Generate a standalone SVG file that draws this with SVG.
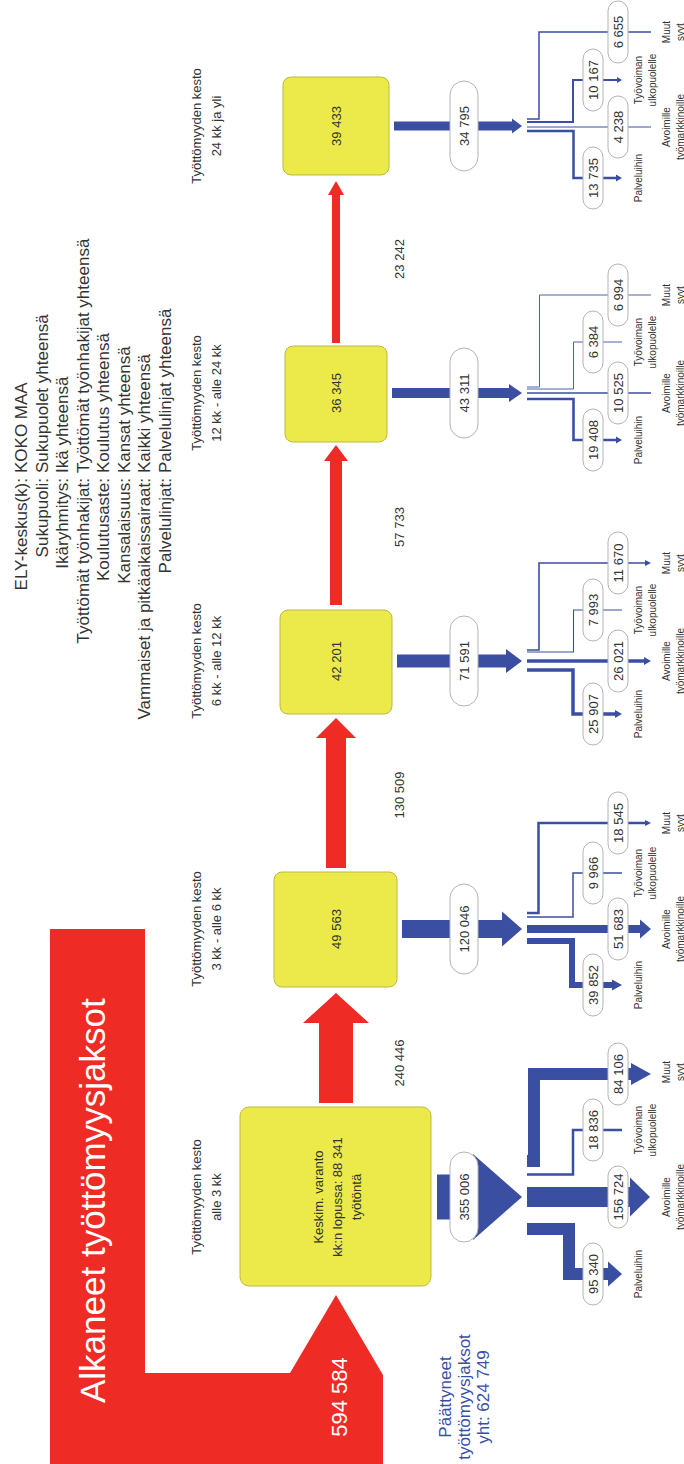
<svg xmlns="http://www.w3.org/2000/svg" width="684" height="1464" viewBox="0 0 684 1464">
<style>
text{font-family:"Liberation Sans",Arial,Helvetica,sans-serif;fill:#333}
.mid{text-anchor:middle}
.end{text-anchor:end}
.f10{font-size:10px}
.f13{font-size:13px}
.f17{font-size:17px}
.box{fill:#ece94a;stroke:#bdb93e;stroke-width:1}
.red{fill:#ee2b24}
.blue{fill:#3a4fa2}
.band{fill:none;stroke:#3a4fa2;stroke-linejoin:miter;stroke-linecap:butt}
.pill{fill:#fff;stroke:#b4b4b4;stroke-width:1}
.white{fill:#fff}
.bt{fill:#3a4fa2}
</style>
<rect width="684" height="1464" fill="#fff"/>
<g id="diagram" transform="matrix(0,-1,1,0,0,1464)">

<g id="header">
<text class="f17 end" x="986" y="27">ELY-keskus(k):</text><text class="f17" x="991" y="27">KOKO MAA</text>
<text class="f17 end" x="986" y="47.5">Sukupuoli:</text><text class="f17" x="991" y="47.5">Sukupuolet yhteensä</text>
<text class="f17 end" x="986" y="68">Ikäryhmitys:</text><text class="f17" x="991" y="68">Ikä yhteensä</text>
<text class="f17 end" x="986" y="88.5">Työttömät työnhakijat:</text><text class="f17" x="991" y="88.5">Työttömät työnhakijat yhteensä</text>
<text class="f17 end" x="986" y="109">Koulutusaste:</text><text class="f17" x="991" y="109">Koulutus yhteensä</text>
<text class="f17 end" x="986" y="129.5">Kansalaisuus:</text><text class="f17" x="991" y="129.5">Kansat yhteensä</text>
<text class="f17 end" x="986" y="150">Vammaiset ja pitkäaikaissairaat:</text><text class="f17" x="991" y="150">Kaikki yhteensä</text>
<text class="f17 end" x="986" y="170.5">Palvelulinjat:</text><text class="f17" x="991" y="170.5">Palvelulinjat yhteensä</text>
</g>

<g id="start">
<polygon class="red" points="535,50 535,145 91,145 91,290 169,336 89,383 0,383 0,50"/>
<text class="white" x="61" y="105" style="font-size:35px">Alkaneet työttömyysjaksot</text>
<text class="white mid" x="67" y="347" style="font-size:22px">594 584</text>
</g>

<g id="ended">
<text class="f17 mid bt" x="67" y="451">Päättyneet</text>
<text class="f17 mid bt" x="67" y="470">työttömyysjaksot</text>
<text class="f17 mid bt" x="67" y="489">yht: 624 749</text>
</g>

<g id="stage-labels">
<text class="f13 mid" x="267" y="201">Työttömyyden kesto</text><text class="f13 mid" x="267" y="221">alle 3 kk</text>
<text class="f13 mid" x="535" y="201">Työttömyyden kesto</text><text class="f13 mid" x="535" y="221">3 kk - alle 6 kk</text>
<text class="f13 mid" x="803" y="201">Työttömyyden kesto</text><text class="f13 mid" x="803" y="221">6 kk - alle 12 kk</text>
<text class="f13 mid" x="1071" y="201">Työttömyyden kesto</text><text class="f13 mid" x="1071" y="221">12 kk - alle 24 kk</text>
<text class="f13 mid" x="1338" y="201">Työttömyyden kesto</text><text class="f13 mid" x="1338" y="221">24 kk ja yli</text>
</g>

<g id="connectors">
<polygon class="red" points="361,319 441,319 441,303 471,336 441,369 441,353 361,353"/>
<polygon class="red" points="596,326 726,326 726,316 746,336 726,356 726,346 596,346"/>
<polygon class="red" points="859,330 1003,330 1003,324 1019,336 1003,348 1003,342 859,342"/>
<polygon class="red" points="1121,332 1269,332 1269,328 1283,336 1269,344 1269,340 1121,340"/>
<text class="f13 mid" x="401" y="404">240 446</text>
<text class="f13 mid" x="669" y="404">130 509</text>
<text class="f13 mid" x="937" y="404">57 733</text>
<text class="f13 mid" x="1205" y="404">23 242</text>

<rect class="blue" x="244.5" y="437" width="45" height="40"/>
<polygon class="blue" points="224,473 310,473 267,522"/>
<rect class="blue" x="526" y="402" width="18" height="100"/>
<polygon class="blue" points="517.5,502 552.5,502 535,522"/>
<rect class="blue" x="796.5" y="397" width="13" height="109"/>
<polygon class="blue" points="791,506 815,506 803,522"/>
<rect class="blue" x="1066" y="392" width="10" height="117"/>
<polygon class="blue" points="1062,509 1080,509 1071,522"/>
<rect class="blue" x="1333.5" y="394" width="9" height="118"/>
<polygon class="blue" points="1330.5,512 1345.5,512 1338,522"/>

<path class="band" stroke-width="12" d="M235,527 V569 H190 V608"/>
<polygon class="blue" points="177.5,608 202.5,608 190,622"/>
<path class="band" stroke-width="20" d="M267,527 V630"/>
<polygon class="blue" points="247.5,630 286.5,630 267,650"/>
<path class="band" stroke-width="2.5" d="M289.5,527 V573 H334 V622"/>
<path class="band" stroke-width="12" d="M303,527 V534 H390 V631"/>
<polygon class="blue" points="379,631 401,631 390,651"/>

<path class="band" stroke-width="6" d="M523,527 V572 H479 V612"/>
<polygon class="blue" points="473.5,612 484.5,612 479,622"/>
<path class="band" stroke-width="8" d="M535,527 V640"/>
<polygon class="blue" points="525.5,640 544.5,640 535,651"/>
<path class="band" stroke-width="1.5" d="M547,527 V573 H591 V622"/>
<path class="band" stroke-width="2.5" d="M551,527 V538.5 H641 V645"/>
<polygon class="blue" points="638,645 644,645 641,651"/>

<path class="band" stroke-width="3.5" d="M794,527 V573 H750 V615"/>
<polygon class="blue" points="746,615 754,615 750,622"/>
<path class="band" stroke-width="3.5" d="M803,527 V644"/>
<polygon class="blue" points="799,644 807,644 803,651"/>
<path class="band" stroke-width="1.1" d="M812,527 V573.5 H854 V622"/>
<path class="band" stroke-width="1.6" d="M814,527 V539 H901 V645"/>
<polygon class="blue" points="898,645 904,645 901,651"/>

<path class="band" stroke-width="2.6" d="M1065,527 V573.5 H1024 V616"/>
<polygon class="blue" points="1020.5,616 1027.5,616 1024,622"/>
<path class="band" stroke-width="1.4" d="M1071,527 V651"/>
<path class="band" stroke-width="0.9" d="M1075,527 V573.5 H1122 V622"/>
<path class="band" stroke-width="0.9" d="M1077,527 V539.5 H1169 V651"/>

<path class="band" stroke-width="2.5" d="M1333,527 V573.5 H1286 V616"/>
<polygon class="blue" points="1282.5,616 1289.5,616 1286,622"/>
<path class="band" stroke-width="1" d="M1337,527 V651"/>
<path class="band" stroke-width="2" d="M1342,527 V573 H1384 V617"/>
<polygon class="blue" points="1381,617 1387,617 1384,622"/>
<path class="band" stroke-width="1.5" d="M1345,527 V539 H1432 V651"/>
</g>

<g id="box1"><rect class="box" x="178" y="240" width="179" height="191" rx="9"/>
<text class="f13 mid" x="267" y="323">Keskim. varanto</text>
<text class="f13 mid" x="267" y="342">kk:n lopussa: 88 341</text>
<text class="f13 mid" x="267" y="361">työtöntä</text></g>
<g id="box2"><rect class="box" x="477" y="274" width="115" height="123" rx="8"/><text class="f13 mid" x="535" y="341">49 563</text></g>
<g id="box3"><rect class="box" x="750" y="280" width="104" height="112" rx="8"/><text class="f13 mid" x="803" y="341">42 201</text></g>
<g id="box4"><rect class="box" x="1022" y="285" width="96" height="102" rx="8"/><text class="f13 mid" x="1071" y="341">36 345</text></g>
<g id="box5"><rect class="box" x="1289" y="283" width="98" height="106" rx="8"/><text class="f13 mid" x="1338" y="341">39 433</text></g>

<g id="exit-pills">
<rect class="pill" x="222" y="450" width="90" height="28" rx="14"/><text class="f13 mid" x="267" y="468.5">355 006</text>
<rect class="pill" x="490" y="450" width="90" height="28" rx="14"/><text class="f13 mid" x="535" y="468.5">120 046</text>
<rect class="pill" x="758" y="450" width="90" height="28" rx="14"/><text class="f13 mid" x="803" y="468.5">71 591</text>
<rect class="pill" x="1026" y="450" width="90" height="28" rx="14"/><text class="f13 mid" x="1071" y="468.5">43 311</text>
<rect class="pill" x="1293" y="450" width="90" height="28" rx="14"/><text class="f13 mid" x="1338" y="468.5">34 795</text>
</g>

<g id="stage1-out">
<rect class="pill" x="159" y="583" width="62" height="20" rx="10"/><text class="f13 mid" x="190" y="597.5">95 340</text>
<rect class="pill" x="236" y="608" width="62" height="20" rx="10"/><text class="f13 mid" x="267" y="622.5">156 724</text>
<rect class="pill" x="303" y="583" width="62" height="20" rx="10"/><text class="f13 mid" x="334" y="597.5">18 836</text>
<rect class="pill" x="359" y="608" width="62" height="20" rx="10"/><text class="f13 mid" x="390" y="622.5">84 106</text>
</g>
<g id="stage2-out">
<rect class="pill" x="448" y="583" width="62" height="20" rx="10"/><text class="f13 mid" x="479" y="597.5">39 852</text>
<rect class="pill" x="504" y="608" width="62" height="20" rx="10"/><text class="f13 mid" x="535" y="622.5">51 683</text>
<rect class="pill" x="560" y="583" width="62" height="20" rx="10"/><text class="f13 mid" x="591" y="597.5">9 966</text>
<rect class="pill" x="610" y="608" width="62" height="20" rx="10"/><text class="f13 mid" x="641" y="622.5">18 545</text>
</g>
<g id="stage3-out">
<rect class="pill" x="719" y="583" width="62" height="20" rx="10"/><text class="f13 mid" x="750" y="597.5">25 907</text>
<rect class="pill" x="772" y="608" width="62" height="20" rx="10"/><text class="f13 mid" x="803" y="622.5">26 021</text>
<rect class="pill" x="823" y="583" width="62" height="20" rx="10"/><text class="f13 mid" x="854" y="597.5">7 993</text>
<rect class="pill" x="870" y="608" width="62" height="20" rx="10"/><text class="f13 mid" x="901" y="622.5">11 670</text>
</g>
<g id="stage4-out">
<rect class="pill" x="993" y="583" width="62" height="20" rx="10"/><text class="f13 mid" x="1024" y="597.5">19 408</text>
<rect class="pill" x="1040" y="608" width="62" height="20" rx="10"/><text class="f13 mid" x="1071" y="622.5">10 525</text>
<rect class="pill" x="1091" y="583" width="62" height="20" rx="10"/><text class="f13 mid" x="1122" y="597.5">6 384</text>
<rect class="pill" x="1138" y="608" width="62" height="20" rx="10"/><text class="f13 mid" x="1169" y="622.5">6 994</text>
</g>
<g id="stage5-out">
<rect class="pill" x="1255" y="583" width="62" height="20" rx="10"/><text class="f13 mid" x="1286" y="597.5">13 735</text>
<rect class="pill" x="1306" y="608" width="62" height="20" rx="10"/><text class="f13 mid" x="1337" y="622.5">4 238</text>
<rect class="pill" x="1353" y="583" width="62" height="20" rx="10"/><text class="f13 mid" x="1384" y="597.5">10 167</text>
<rect class="pill" x="1401" y="608" width="62" height="20" rx="10"/><text class="f13 mid" x="1432" y="622.5">6 655</text>
</g>

<g id="category-labels">
<text class="f10 mid" x="190" y="642">Palveluihin</text>
<text class="f10 mid" x="267" y="670">Avoimille</text><text class="f10 mid" x="267" y="684">työmarkkinoille</text>
<text class="f10 mid" x="334" y="642">Työvoiman</text><text class="f10 mid" x="334" y="656">ulkopuolelle</text>
<text class="f10 mid" x="392" y="670">Muut</text><text class="f10 mid" x="392" y="684">syyt</text>

<text class="f10 mid" x="479" y="642">Palveluihin</text>
<text class="f10 mid" x="535" y="670">Avoimille</text><text class="f10 mid" x="535" y="684">työmarkkinoille</text>
<text class="f10 mid" x="591" y="642">Työvoiman</text><text class="f10 mid" x="591" y="656">ulkopuolelle</text>
<text class="f10 mid" x="641" y="670">Muut</text><text class="f10 mid" x="641" y="684">syyt</text>

<text class="f10 mid" x="750" y="642">Palveluihin</text>
<text class="f10 mid" x="803" y="670">Avoimille</text><text class="f10 mid" x="803" y="684">työmarkkinoille</text>
<text class="f10 mid" x="854" y="642">Työvoiman</text><text class="f10 mid" x="854" y="656">ulkopuolelle</text>
<text class="f10 mid" x="901" y="670">Muut</text><text class="f10 mid" x="901" y="684">syyt</text>

<text class="f10 mid" x="1024" y="642">Palveluihin</text>
<text class="f10 mid" x="1071" y="670">Avoimille</text><text class="f10 mid" x="1071" y="684">työmarkkinoille</text>
<text class="f10 mid" x="1122" y="642">Työvoiman</text><text class="f10 mid" x="1122" y="656">ulkopuolelle</text>
<text class="f10 mid" x="1169" y="670">Muut</text><text class="f10 mid" x="1169" y="684">syyt</text>

<text class="f10 mid" x="1286" y="642">Palveluihin</text>
<text class="f10 mid" x="1337" y="670">Avoimille</text><text class="f10 mid" x="1337" y="684">työmarkkinoille</text>
<text class="f10 mid" x="1384" y="642">Työvoiman</text><text class="f10 mid" x="1384" y="656">ulkopuolelle</text>
<text class="f10 mid" x="1432" y="670">Muut</text><text class="f10 mid" x="1432" y="684">syyt</text>
</g>
</g>
</svg>
